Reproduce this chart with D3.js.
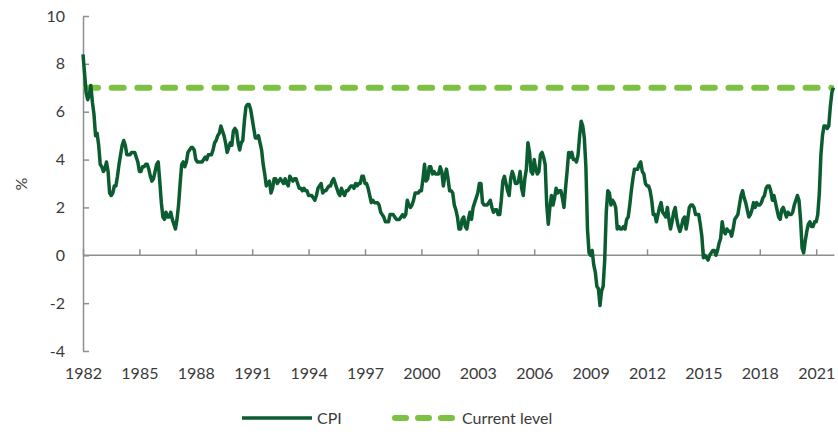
<!DOCTYPE html>
<html>
<head>
<meta charset="utf-8">
<script src="https://cdn.jsdelivr.net/npm/d3@7"></script>
<style>
  body { margin: 0; background: #fff; }
  svg { display: block; font-family: Lato, "Open Sans", sans-serif; }
</style>
</head>
<body>
<div id="chart"></div>
<script>
// CPI, % y/y, monthly from Jan 1982 (12 values per row)
var startYear = 1982;
var cpi = [
  8.4, 7.6, 6.8, 6.5, 6.7, 7.1, 6.4, 5.9, 5.0, 5.1, 4.6, 3.8,   // 1982
  3.7, 3.5, 3.6, 3.9, 3.5, 2.6, 2.5, 2.6, 2.9, 2.9, 3.3, 3.8,   // 1983
  4.2, 4.6, 4.8, 4.6, 4.2, 4.2, 4.2, 4.3, 4.3, 4.3, 4.1, 3.9,   // 1984
  3.5, 3.5, 3.7, 3.7, 3.8, 3.8, 3.6, 3.3, 3.1, 3.2, 3.5, 3.8,   // 1985
  3.9, 3.1, 2.2, 1.6, 1.5, 1.8, 1.6, 1.6, 1.8, 1.5, 1.3, 1.1,   // 1986
  1.5, 2.1, 3.0, 3.8, 3.9, 3.7, 3.9, 4.3, 4.4, 4.5, 4.5, 4.4,   // 1987
  4.0, 3.9, 3.9, 3.9, 3.9, 4.0, 4.1, 4.0, 4.2, 4.2, 4.2, 4.4,   // 1988
  4.7, 4.8, 5.0, 5.1, 5.4, 5.2, 5.0, 4.7, 4.3, 4.5, 4.7, 4.6,   // 1989
  5.2, 5.3, 5.2, 4.7, 4.4, 4.7, 4.8, 5.6, 6.2, 6.3, 6.3, 6.1,   // 1990
  5.7, 5.3, 4.9, 4.9, 5.0, 4.7, 4.4, 3.8, 3.4, 2.9, 3.0, 3.1,   // 1991
  2.6, 2.8, 3.2, 3.2, 3.0, 3.1, 3.2, 3.1, 3.0, 3.2, 3.0, 2.9,   // 1992
  3.3, 3.2, 3.1, 3.2, 3.2, 3.0, 2.8, 2.8, 2.7, 2.8, 2.7, 2.7,   // 1993
  2.5, 2.5, 2.5, 2.4, 2.3, 2.5, 2.8, 2.9, 3.0, 2.6, 2.7, 2.7,   // 1994
  2.8, 2.9, 2.9, 3.1, 3.2, 3.0, 2.8, 2.6, 2.5, 2.8, 2.6, 2.5,   // 1995
  2.7, 2.7, 2.8, 2.9, 2.9, 2.8, 3.0, 2.9, 3.0, 3.0, 3.3, 3.3,   // 1996
  3.0, 3.0, 2.8, 2.5, 2.2, 2.3, 2.2, 2.2, 2.2, 2.1, 1.8, 1.7,   // 1997
  1.6, 1.4, 1.4, 1.4, 1.7, 1.7, 1.7, 1.6, 1.5, 1.5, 1.5, 1.6,   // 1998
  1.7, 1.6, 1.7, 2.3, 2.1, 2.0, 2.1, 2.3, 2.6, 2.6, 2.6, 2.7,   // 1999
  2.7, 3.2, 3.8, 3.1, 3.2, 3.7, 3.7, 3.4, 3.5, 3.4, 3.4, 3.4,   // 2000
  3.7, 3.5, 2.9, 3.3, 3.6, 3.2, 2.7, 2.7, 2.6, 2.1, 1.9, 1.6,   // 2001
  1.1, 1.1, 1.5, 1.6, 1.2, 1.1, 1.5, 1.8, 1.5, 2.0, 2.2, 2.4,   // 2002
  2.6, 3.0, 3.0, 2.2, 2.1, 2.1, 2.1, 2.2, 2.3, 2.0, 1.8, 1.9,   // 2003
  1.9, 1.7, 1.7, 2.3, 3.1, 3.3, 3.0, 2.7, 2.5, 3.2, 3.5, 3.3,   // 2004
  3.0, 3.0, 3.1, 3.5, 2.8, 2.5, 3.2, 3.6, 4.7, 4.3, 3.5, 3.4,   // 2005
  4.0, 3.6, 3.4, 3.5, 4.2, 4.3, 4.1, 3.8, 2.1, 1.3, 2.0, 2.5,   // 2006
  2.1, 2.4, 2.8, 2.6, 2.7, 2.7, 2.4, 2.0, 2.8, 3.5, 4.3, 4.1,   // 2007
  4.3, 4.0, 4.0, 3.9, 4.2, 5.0, 5.6, 5.4, 4.9, 3.7, 1.1, 0.1,   // 2008
  0.0, 0.2, -0.4, -0.7, -1.3, -1.4, -2.1, -1.5, -1.3, -0.2, 1.8, 2.7, // 2009
  2.6, 2.1, 2.3, 2.2, 2.0, 1.1, 1.2, 1.1, 1.1, 1.2, 1.1, 1.5,   // 2010
  1.6, 2.1, 2.7, 3.2, 3.6, 3.6, 3.6, 3.8, 3.9, 3.5, 3.4, 3.0,   // 2011
  2.9, 2.9, 2.7, 2.3, 1.7, 1.7, 1.4, 1.7, 2.0, 2.2, 1.8, 1.7,   // 2012
  1.6, 2.0, 1.5, 1.1, 1.4, 1.8, 2.0, 1.5, 1.2, 1.0, 1.2, 1.5,   // 2013
  1.6, 1.1, 1.5, 2.0, 2.1, 2.1, 2.0, 1.7, 1.7, 1.7, 1.3, 0.8,   // 2014
  -0.1, 0.0, -0.1, -0.2, 0.0, 0.1, 0.2, 0.2, 0.0, 0.2, 0.5, 0.7, // 2015
  1.4, 1.0, 0.9, 1.1, 1.0, 1.0, 0.8, 1.1, 1.5, 1.6, 1.7, 2.1,   // 2016
  2.5, 2.7, 2.4, 2.2, 1.9, 1.6, 1.7, 1.9, 2.2, 2.0, 2.2, 2.1,   // 2017
  2.1, 2.2, 2.4, 2.5, 2.8, 2.9, 2.9, 2.7, 2.3, 2.5, 2.2, 1.9,   // 2018
  1.6, 1.5, 1.9, 2.0, 1.8, 1.6, 1.8, 1.7, 1.7, 1.8, 2.1, 2.3,   // 2019
  2.5, 2.3, 1.5, 0.3, 0.1, 0.6, 1.0, 1.3, 1.4, 1.2, 1.2, 1.4,   // 2020
  1.4, 1.7, 2.6, 4.2, 5.0, 5.4, 5.4, 5.3, 5.4, 6.2, 6.8, 7.0    // 2021
];
var currentLevel = 7.0;
var yTicks = [-4, -2, 0, 2, 4, 6, 8, 10];
var xTickYears = [1982, 1985, 1988, 1991, 1994, 1997, 2000, 2003, 2006, 2009, 2012, 2015, 2018, 2021];
var legendLabels = ["CPI", "Current level"];

var width = 838, height = 435;
var colCPI = "#0b5d31", colLevel = "#7cc142", colAxis = "#8e8e8e", colText = "#3a3a3a";

var svg = d3.select("#chart").append("svg")
    .attr("width", width)
    .attr("height", height);

// escalas
var x = d3.scaleLinear().domain([1982, 2022]).range([83, 835]);
var y = d3.scaleLinear().domain([-4, 10]).range([351, 16]);

var data = cpi.map((v, i) => ({ t: startYear + i / 12, v: v }));
var tEnd = data[data.length - 1].t;

// eje Y (ticks hacia dentro)
var gy = svg.append("g")
    .attr("transform", "translate(" + x(1982) + ",0)")
    .call(d3.axisLeft(y).tickValues(yTicks).tickSize(-6).tickSizeOuter(0).tickPadding(18)
        .tickFormat(d => String(d)));
gy.selectAll("path, line").attr("stroke", colAxis).attr("stroke-width", 1.5);
gy.selectAll("text").attr("fill", colText).style("font-size", "16px")
    .style("font-family", "Lato, 'Open Sans', sans-serif");

// linea de cero con ticks hacia arriba
var gx = svg.append("g")
    .attr("transform", "translate(0," + y(0) + ")")
    .call(d3.axisTop(x).tickValues(xTickYears).tickSize(6).tickSizeOuter(0).tickFormat(""));
gx.select(".domain").attr("d", "M" + x(1982) + ",0H" + (x(tEnd) + 1));
gx.selectAll("path, line").attr("stroke", colAxis).attr("stroke-width", 1.5);

// etiquetas del eje X abajo
var gxl = svg.append("g")
    .attr("transform", "translate(0," + y(-4) + ")")
    .call(d3.axisBottom(x).tickValues(xTickYears).tickSize(0).tickPadding(17).tickFormat(d3.format("d")));
gxl.select(".domain").remove();
gxl.selectAll("text").attr("fill", colText).style("font-size", "16px")
    .style("font-family", "Lato, 'Open Sans', sans-serif");

// titulo eje Y
svg.append("text")
    .attr("transform", "translate(27," + 184 + ") rotate(-90)")
    .attr("text-anchor", "middle")
    .attr("fill", colText)
    .style("font-size", "16px")
    .text("%");

// nivel actual
svg.append("line")
    .attr("x1", x(1982) + 3).attr("x2", x(tEnd) - 2)
    .attr("y1", y(currentLevel)).attr("y2", y(currentLevel))
    .attr("stroke", colLevel)
    .attr("stroke-width", 6)
    .attr("stroke-linecap", "round")
    .attr("stroke-dasharray", "12,13.7");

// CPI
var line = d3.line().x(d => x(d.t)).y(d => y(d.v));
svg.append("path")
    .datum(data)
    .attr("d", line)
    .attr("fill", "none")
    .attr("stroke", colCPI)
    .attr("stroke-width", 3.5)
    .attr("stroke-linejoin", "round");

// leyenda
var leg = svg.append("g");
leg.append("line")
    .attr("x1", 242).attr("x2", 312).attr("y1", 418).attr("y2", 418)
    .attr("stroke", colCPI).attr("stroke-width", 3.5);
leg.append("text")
    .attr("x", 317).attr("y", 424)
    .attr("fill", colText).style("font-size", "16px")
    .text(legendLabels[0]);
leg.append("line")
    .attr("x1", 395).attr("x2", 452).attr("y1", 418).attr("y2", 418)
    .attr("stroke", colLevel).attr("stroke-width", 6)
    .attr("stroke-linecap", "round")
    .attr("stroke-dasharray", "11,12");
leg.append("text")
    .attr("x", 462).attr("y", 424)
    .attr("fill", colText).style("font-size", "16px")
    .text(legendLabels[1]);
</script>
</body>
</html>
